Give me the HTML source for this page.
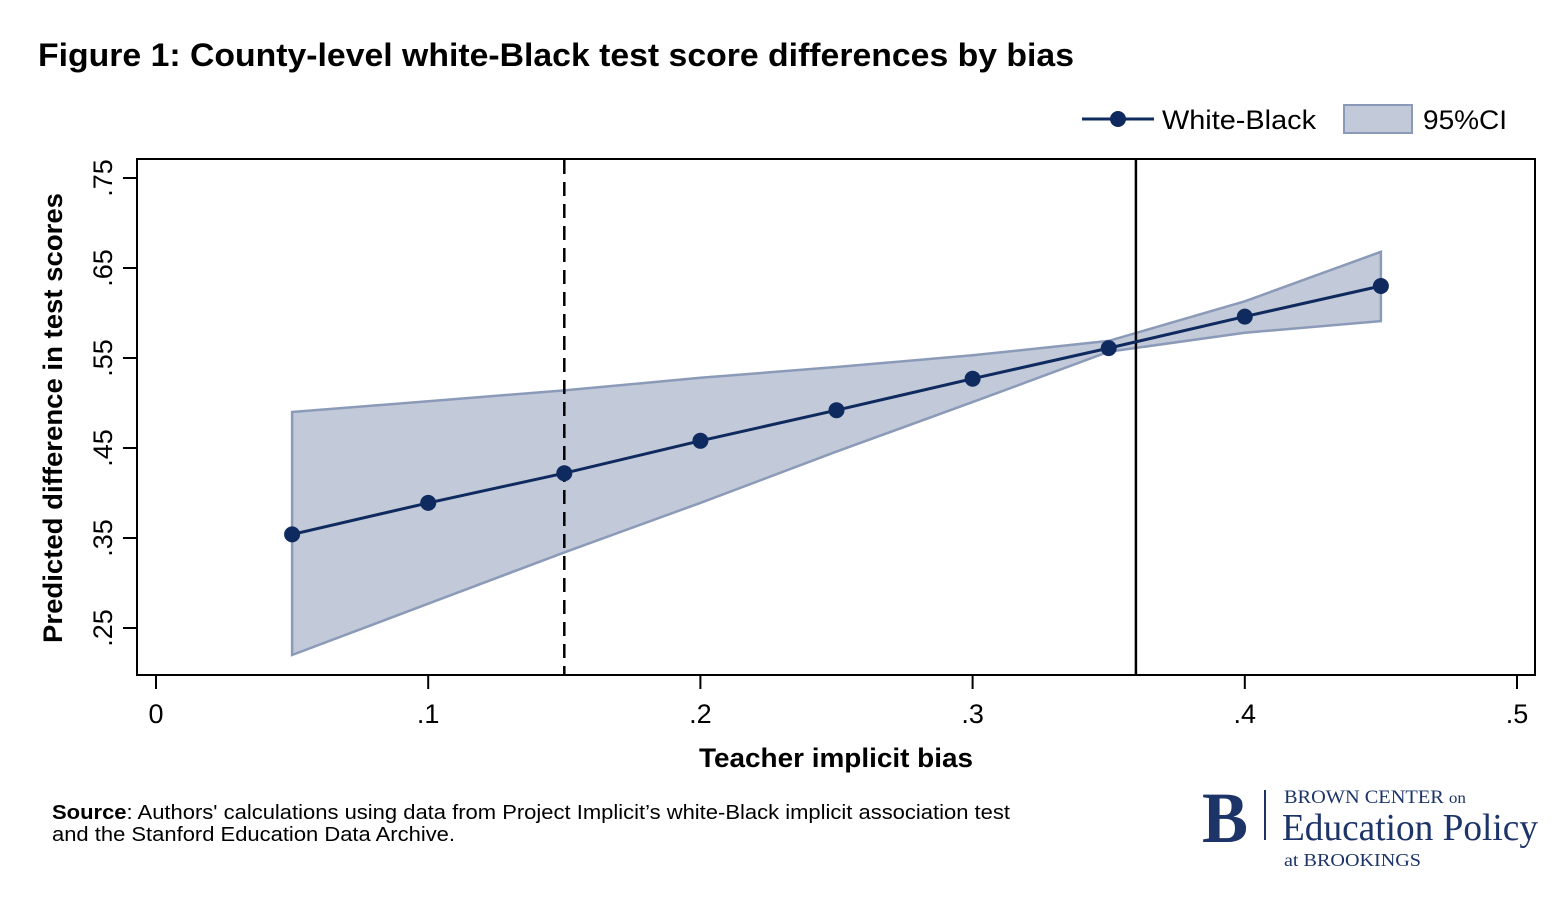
<!DOCTYPE html>
<html><head><meta charset="utf-8"><style>
body{margin:0;width:1568px;height:896px;background:#fff;overflow:hidden;font-family:"Liberation Sans",sans-serif;}
</style></head><body>
<svg width="1568" height="896" xmlns="http://www.w3.org/2000/svg" font-family="Liberation Sans, sans-serif">
<text x="38" y="66" font-size="32" font-weight="bold" fill="#000" textLength="1036" lengthAdjust="spacingAndGlyphs">Figure 1: County-level white-Black test score differences by bias</text>
<g>
<g>
<line x1="1082" y1="119" x2="1154" y2="119" stroke="#0f2a5e" stroke-width="3"/>
<circle cx="1118" cy="119" r="8" fill="#0f2a5e"/>
<text x="1162" y="129" font-size="27" textLength="154" lengthAdjust="spacingAndGlyphs">White-Black</text></g>
<g>
<rect x="1344" y="105" width="68" height="28" fill="#c2c9d8" stroke="#8b9ab8" stroke-width="2"/>
<text x="1423" y="129" font-size="27" textLength="84" lengthAdjust="spacingAndGlyphs">95%CI</text></g>
</g>
<rect x="137" y="159" width="1398" height="516" fill="#fff" stroke="#000" stroke-width="2"/>
<g id="marks"></g>
<text x="836" y="767" font-size="27" font-weight="bold" text-anchor="middle" textLength="274" lengthAdjust="spacingAndGlyphs">Teacher implicit bias</text>
<text transform="translate(62,418) rotate(-90)" font-size="27" font-weight="bold" text-anchor="middle" textLength="450" lengthAdjust="spacingAndGlyphs">Predicted difference in test scores</text>
<text x="52" y="819" font-size="20" textLength="958" lengthAdjust="spacingAndGlyphs"><tspan font-weight="bold">Source</tspan>: Authors' calculations using data from Project Implicit’s white-Black implicit association test</text>
<text x="52" y="841" font-size="20" textLength="403" lengthAdjust="spacingAndGlyphs">and the Stanford Education Data Archive.</text>
<g font-family="Liberation Serif, serif" fill="#1c3468">
<text x="1202" y="842" font-size="72" font-weight="bold" textLength="46" lengthAdjust="spacingAndGlyphs">B</text>
<line x1="1265" y1="790" x2="1265" y2="840" stroke="#1c3468" stroke-width="2"/>
<text x="1284" y="803" font-size="19" textLength="182" lengthAdjust="spacingAndGlyphs">BROWN CENTER <tspan font-size="16">on</tspan></text>
<text x="1282" y="840" font-size="38" textLength="256" lengthAdjust="spacingAndGlyphs">Education Policy</text>
<text x="1284" y="866" font-size="18" textLength="137" lengthAdjust="spacingAndGlyphs">at BROOKINGS</text>
</g>
</svg>
<script>
const xVals=[0.05,0.1,0.15,0.2,0.25,0.3,0.35,0.4,0.45];
const estimates=[0.354,0.389,0.422,0.458,0.492,0.527,0.561,0.596,0.630];
const ciUpper=[0.490,0.502,0.514,0.528,0.540,0.553,0.569,0.613,0.668];
const ciLower=[0.220,0.277,0.334,0.389,0.446,0.501,0.557,0.578,0.591];
const xTicks=[0,0.1,0.2,0.3,0.4,0.5];
const xTickLabels=["0",".1",".2",".3",".4",".5"];
const yTicks=[0.25,0.35,0.45,0.55,0.65,0.75];
const yTickLabels=[".25",".35",".45",".55",".65",".75"];
const refDashed=0.15, refSolid=0.36;
const X=v=>156+v*2722, Y=v=>628-(v-0.25)*900;
const ns="http://www.w3.org/2000/svg", g=document.getElementById('marks');
function mk(t,a){const e=document.createElementNS(ns,t);for(const k in a)e.setAttribute(k,a[k]);g.appendChild(e);return e;}
let pts=xVals.map((x,i)=>X(x)+','+Y(ciUpper[i])).concat(xVals.map((x,i)=>X(x)+','+Y(ciLower[i])).reverse());
const band=mk('polygon',{points:pts.join(' '),fill:'#c2c9d8',stroke:'#8b9ab8','stroke-width':2.5});


const dl=mk('line',{x1:X(refDashed),x2:X(refDashed),y1:160,y2:674,stroke:'#000','stroke-width':2.5,'stroke-dasharray':'14,8'});


const sl=mk('line',{x1:X(refSolid),x2:X(refSolid),y1:160,y2:674,stroke:'#000','stroke-width':2.5});


const ln=mk('polyline',{points:xVals.map((x,i)=>X(x)+','+Y(estimates[i])).join(' '),fill:'none',stroke:'#0f2a5e','stroke-width':3});


xVals.forEach((x,i)=>{const c=mk('circle',{cx:X(x),cy:Y(estimates[i]),r:8,fill:'#0f2a5e'});

});
xTicks.forEach((t,i)=>{const l=mk('line',{x1:X(t),x2:X(t),y1:676,y2:689,stroke:'#000','stroke-width':2});


const tx=mk('text',{x:X(t),y:723,'font-size':27,'text-anchor':'middle'});tx.textContent=xTickLabels[i];

});
yTicks.forEach((t,i)=>{const l=mk('line',{x1:123,x2:136,y1:Y(t),y2:Y(t),stroke:'#000','stroke-width':2});


const tx=mk('text',{x:0,y:0,'font-size':27,'text-anchor':'middle',transform:`translate(112,${Y(t)}) rotate(-90)`});tx.textContent=yTickLabels[i];

});
</script>
</body></html>
